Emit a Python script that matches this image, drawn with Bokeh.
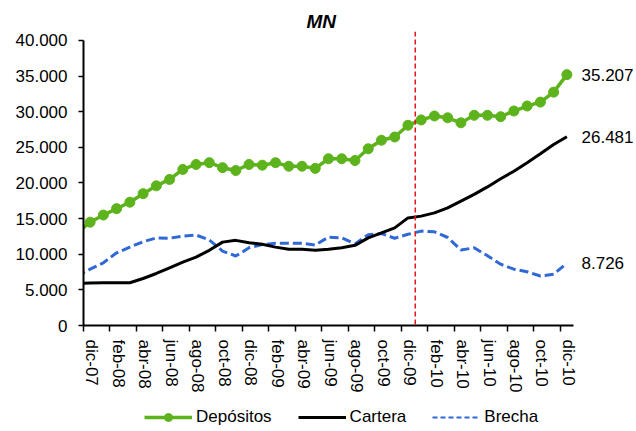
from bokeh.plotting import figure
from bokeh.layouts import column
from bokeh.models import FixedTicker, Span, Legend, LegendItem, LinearAxis
from bokeh.embed import file_html
from bokeh.resources import INLINE

# ---- data (nov-07 .. dic-10) ----
months = ["nov-07", "dic-07",
          "ene-08", "feb-08", "mar-08", "abr-08", "may-08", "jun-08",
          "jul-08", "ago-08", "sep-08", "oct-08", "nov-08", "dic-08",
          "ene-09", "feb-09", "mar-09", "abr-09", "may-09", "jun-09",
          "jul-09", "ago-09", "sep-09", "oct-09", "nov-09", "dic-09",
          "ene-10", "feb-10", "mar-10", "abr-10", "may-10", "jun-10",
          "jul-10", "ago-10", "sep-10", "oct-10", "nov-10", "dic-10"]

depositos = [13000, 14500,
             15500, 16400, 17300, 18500, 19600, 20500,
             21900, 22600, 22850, 22150, 21750, 22600,
             22500, 22850, 22350, 22350, 22050, 23400,
             23400, 23150, 24800, 26000, 26450, 28100,
             28850, 29400, 29150, 28450, 29500, 29500,
             29300, 30100, 30800, 31350, 32750, 35207]

cartera = [5900, 5950,
           6000, 6000, 6000, 6600, 7300, 8100,
           8900, 9600, 10550, 11700, 11950, 11600,
           11400, 11000, 10700, 10700, 10550, 10700,
           10900, 11250, 12300, 13000, 13700, 15100,
           15350, 15800, 16500, 17450, 18400, 19450,
           20600, 21650, 22850, 24100, 25400, 26481]

brecha = [6950, 7900,
          8800, 10200, 11000, 11750, 12300, 12250,
          12550, 12700, 12000, 10450, 9750, 10900,
          11350, 11550, 11550, 11550, 11300, 12400,
          12300, 11450, 12750, 12900, 12250, 12800,
          13250, 13150, 12350, 10600, 10900, 9800,
          8600, 7900, 7550, 6950, 7200, 8726]

y_ticks = [0, 5000, 10000, 15000, 20000, 25000, 30000, 35000, 40000]
marker_month = 24.55  # between dic-09 and ene-10

# x positions: nov-07 = -1, dic-07 = 0, ..., dic-10 = 36
xs = list(range(-1, len(months) - 1))

def fmt(v):
    return f"{v:,}".replace(",", ".")

FONT = "Liberation Sans"
GREEN = "#5DB31C"
BLUE = "#3068D6"
RED = "#E3161B"

p = figure(width=636, height=397, output_backend="svg", toolbar_location=None,
           x_range=(-0.5, 36.5), y_range=(0, 41260),
           min_border_left=83, min_border_right=60,
           min_border_top=31, min_border_bottom=72)
p.outline_line_color = None
p.xgrid.visible = False
p.ygrid.visible = False

# title
p.title.text = "MN"
p.title.align = "left"
p.title.text_font = FONT
p.title.text_font_style = "bold italic"
p.title.text_font_size = "19px"
p.title.text_color = "black"
p.title.standoff = 0
p.title.offset = 223

# x axis
label_shift = 0.12
label_ticks = list(range(0, 37, 2))
p.xaxis.ticker = FixedTicker(ticks=[t + label_shift for t in label_ticks],
                             minor_ticks=[t - 0.5 for t in label_ticks])
p.xaxis.major_label_overrides = {t + label_shift: months[t + 1] for t in label_ticks}
p.xaxis.major_label_orientation = "vertical"
p.xaxis.major_tick_line_color = None
p.xaxis.minor_tick_line_color = "black"
p.xaxis.minor_tick_line_width = 1.5
p.xaxis.minor_tick_out = 6
p.xaxis.minor_tick_in = 0
p.xaxis.axis_line_width = 2
p.xaxis.axis_line_color = "black"
p.xaxis.major_label_standoff = 8
p.xaxis.major_label_text_font = FONT
p.xaxis.major_label_text_font_size = "17px"
p.xaxis.major_label_text_color = "black"

# y axis
p.yaxis.ticker = FixedTicker(ticks=y_ticks)
p.yaxis.bounds = (0, 40000)
p.yaxis.major_label_overrides = {t: fmt(t) for t in y_ticks}
p.yaxis.minor_tick_line_color = None
p.yaxis.major_tick_line_color = "black"
p.yaxis.major_tick_line_width = 1.5
p.yaxis.major_tick_out = 5
p.yaxis.major_tick_in = 0
p.yaxis.axis_line_width = 2
p.yaxis.axis_line_color = "black"
p.yaxis.major_label_standoff = 11
p.yaxis.major_label_text_font = FONT
p.yaxis.major_label_text_font_size = "17px"
p.yaxis.major_label_text_color = "black"

# end-value labels as a bare right axis
end_values = [depositos[-1], cartera[-1], brecha[-1]]
end_axis = LinearAxis(ticker=FixedTicker(ticks=end_values),
                      major_label_overrides={v: fmt(v) for v in end_values},
                      axis_line_color=None, major_tick_line_color=None,
                      minor_tick_line_color=None, major_tick_out=0,
                      major_tick_in=0, major_label_standoff=8,
                      major_label_text_font=FONT,
                      major_label_text_font_size="17px",
                      major_label_text_color="black")
p.add_layout(end_axis, "right")

# red marker line
p.add_layout(Span(location=marker_month, dimension="height",
                  line_color=RED, line_dash="5 3", line_width=1.5))

# series
p.line(xs, brecha, line_color=BLUE, line_width=3, line_dash="9 4")
p.line(xs, cartera, line_color="black", line_width=3)
p.line(xs, depositos, line_color=GREEN, line_width=3.5)
p.scatter(xs[1:], depositos[1:], size=10, fill_color=GREEN, line_color=GREEN)

# ---- legend strip (same series, drawn out of view; only the key shows) ----
lg = figure(width=636, height=34, output_backend="svg", toolbar_location=None,
            x_range=(0, 1), y_range=(0, 1), x_axis_location=None,
            y_axis_location=None, min_border=0)
lg.outline_line_color = None
lg.xgrid.visible = False
lg.ygrid.visible = False
k_de = lg.line(xs, depositos, line_color=GREEN, line_width=3.5)
k_dm = lg.scatter(xs[1:], depositos[1:], size=10, fill_color=GREEN,
                  line_color=GREEN)
k_ca = lg.line(xs, cartera, line_color="black", line_width=3)
k_br = lg.line(xs, brecha, line_color=BLUE, line_width=2, line_dash="5 3")

legend = Legend(items=[LegendItem(label="Depósitos", renderers=[k_de, k_dm]),
                       LegendItem(label="Cartera", renderers=[k_ca]),
                       LegendItem(label="Brecha", renderers=[k_br])],
                orientation="horizontal", location=(61, 4),
                glyph_width=48, glyph_height=20, label_standoff=4, spacing=26,
                padding=0, margin=0,
                label_text_font=FONT, label_text_font_size="17px",
                label_text_color="black",
                border_line_alpha=0, background_fill_alpha=0)
lg.add_layout(legend, "center")

layout = column(p, lg, spacing=0)
open("out.html", "w").write(file_html(layout, INLINE))
